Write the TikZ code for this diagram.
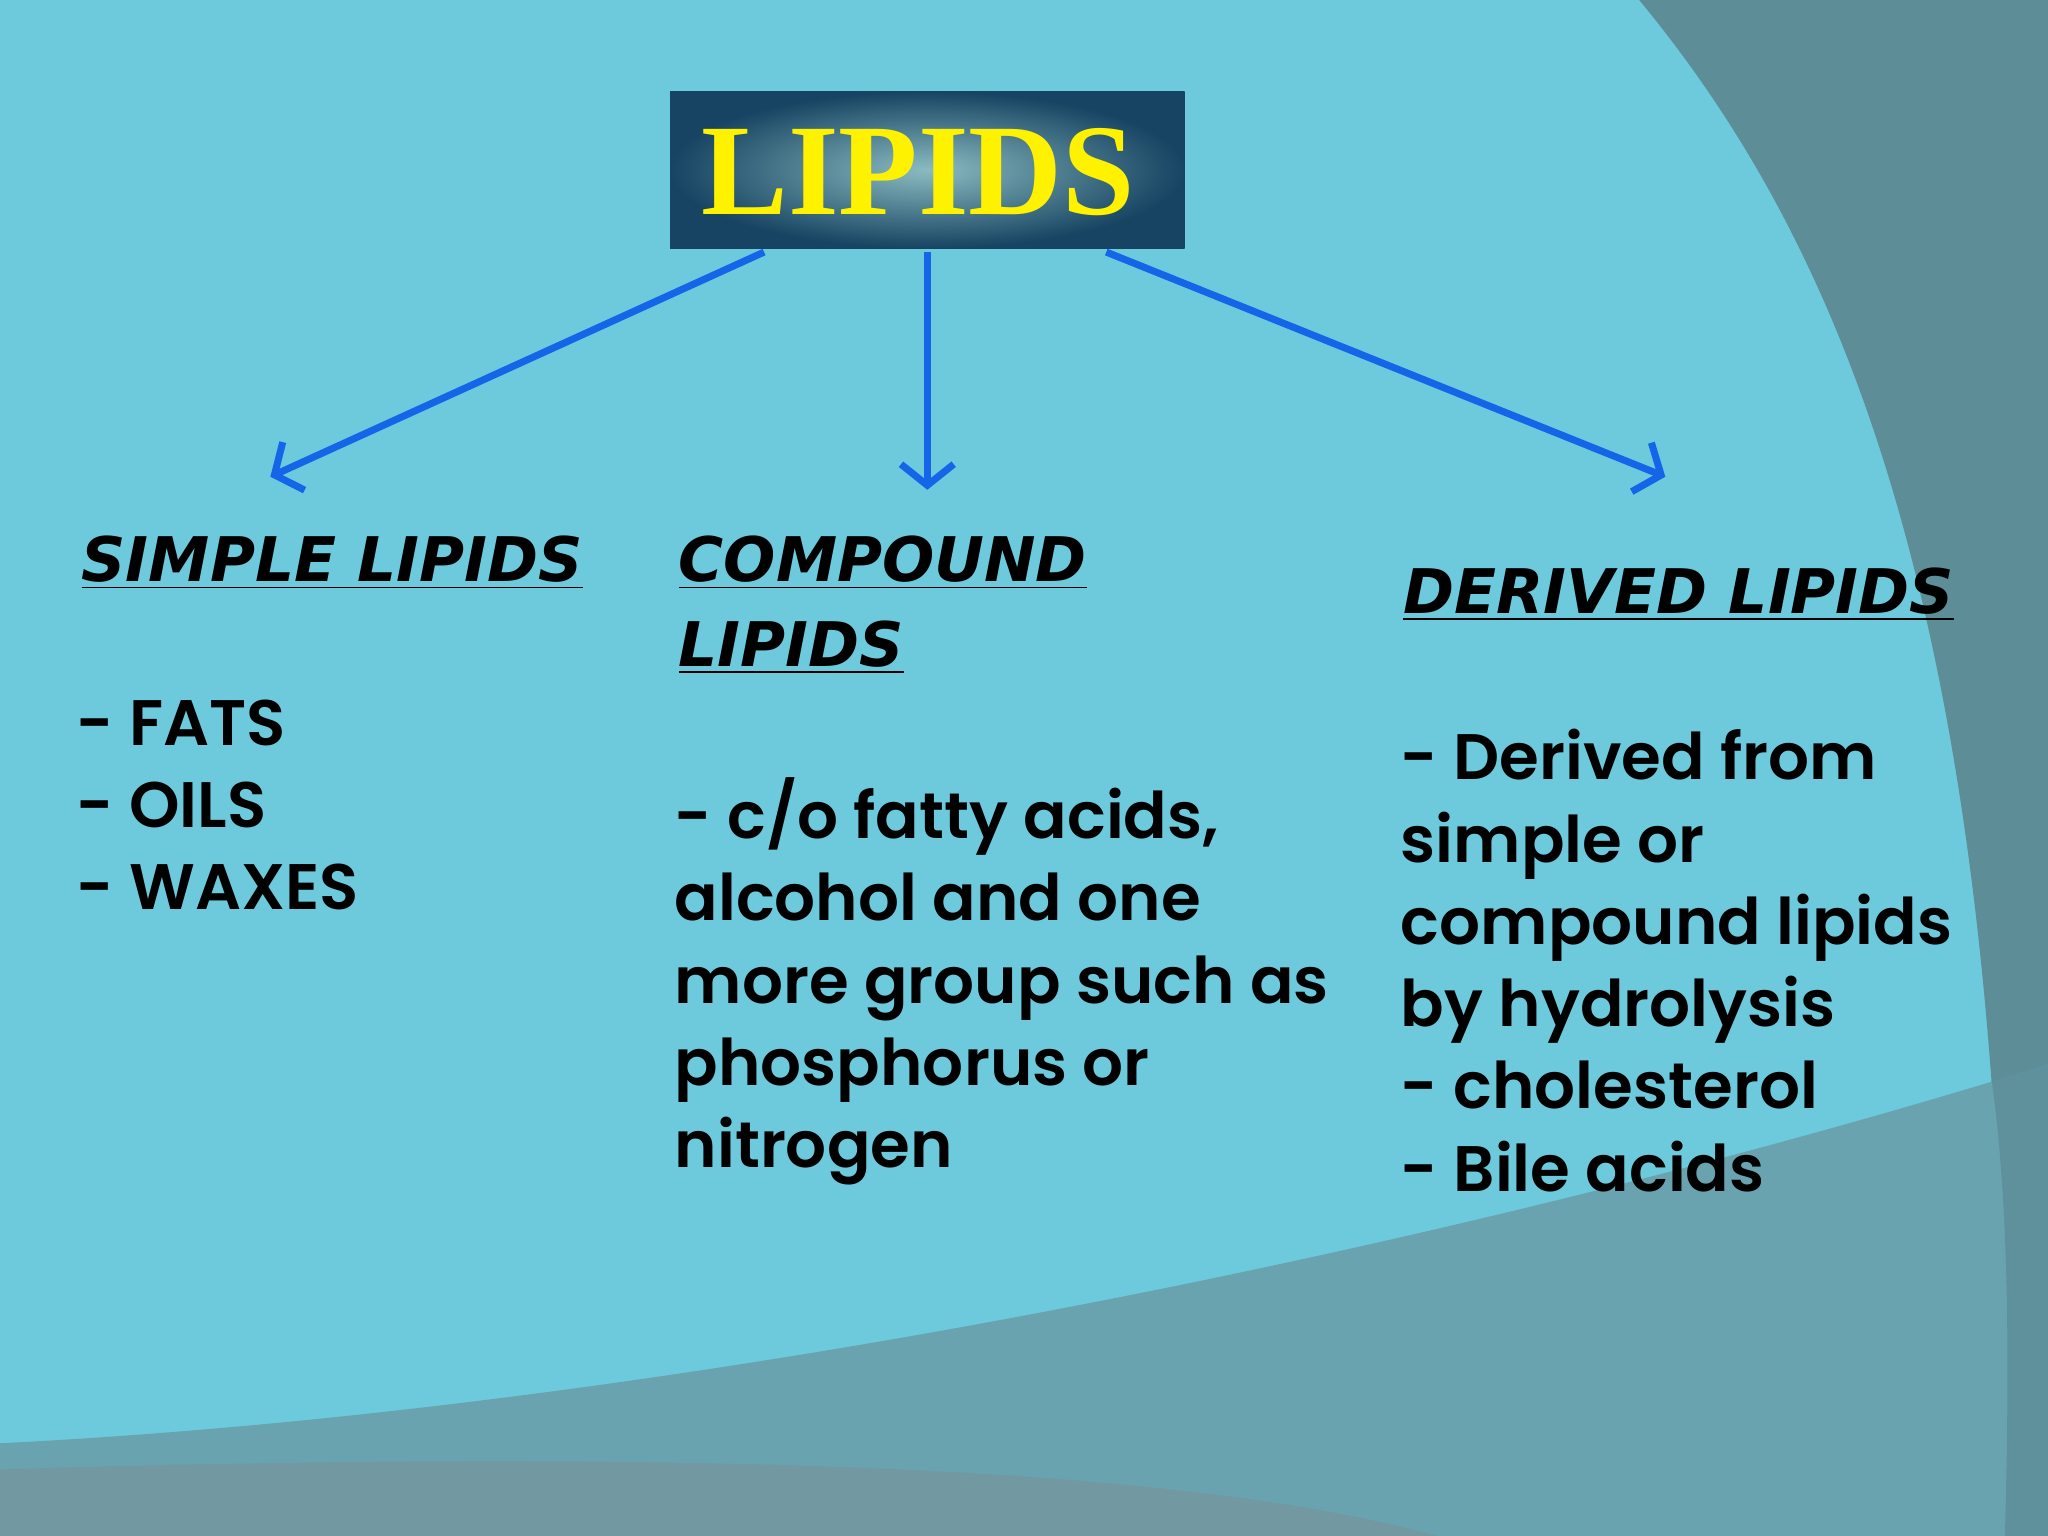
\documentclass[tikz,border=0pt]{standalone}
\usepackage{fontspec}
\usetikzlibrary{arrows.meta}
\newfontfamily\headfont{DejaVu Sans}
\newfontfamily\bodyfont{Poppins}[UprightFont=* SemiBold]
\newfontfamily\titlefont{Liberation Serif}
\definecolor{bgc}{HTML}{6DCADC}
\definecolor{grayr}{HTML}{5D8E98}
\definecolor{bandc}{HTML}{6AA3B0}
\definecolor{botc}{HTML}{7298A2}
\definecolor{arr}{HTML}{1565E8}
\tikzset{
 hd/.style={anchor=north west,inner sep=0pt,font=\headfont\bfseries\itshape\fontsize{17.5pt}{24pt}\selectfont,align=left},
 bd/.style={anchor=north west,inner sep=0pt,font=\bodyfont\fontsize{18.3pt}{23.4pt}\selectfont,align=left},
 ar/.style={draw=arr,line width=2pt,-{Straight Barb[length=6pt,width=15pt,line width=2pt]}}
}
\begin{document}
\begin{tikzpicture}[x=0.013061cm,y=-0.013061cm]
\useasboundingbox (0,0) rectangle (1568,1176);
\fill[bgc] (0,0) rectangle (1568,1176);
\fill[grayr] (1255,0) .. controls (1420,200) and (1540,500) .. (1535,1176) -- (1568,1176) -- (1568,0) -- cycle;
\fill[bandc] (0,1105) .. controls (500,1080) and (1100,960) .. (1568,815) -- (1568,1176) -- (0,1176) -- cycle;
\fill[grayr!85!bandc] (1535,1176) .. controls (1540,1000) and (1535,900) .. (1525,828) -- (1568,815) -- (1568,1176) -- cycle;
\fill[botc] (0,1125) .. controls (500,1110) and (900,1120) .. (1100,1176) -- (0,1176) -- cycle;
\shade[inner color=blue!10!cyan!30!gray!70, outer color={rgb,255:red,22;green,68;blue,98}] (513,70) rectangle (907,190);
\node[inner sep=0pt] (title) at (703,132) {\titlefont\bfseries\color{yellow}\fontsize{37pt}{37pt}\selectfont LIPIDS};
\coordinate (a1) at (585,193);
\coordinate (a2) at (710,193);
\coordinate (a3) at (847,193);
\coordinate (b1) at (207,365);
\coordinate (b2) at (710,375);
\coordinate (b3) at (1275,365);
\draw[ar] (a1) -- (b1);
\draw[ar] (a2) -- (b2);
\draw[ar] (a3) -- (b3);
\node[hd] (h1) at (62,410) {\underline{SIMPLE LIPIDS}};
\node[hd] (h2) at (519,410) {\underline{COMPOUND}\\\underline{LIPIDS}};
\node[hd] (h3) at (1074,434) {\underline{DERIVED LIPIDS}};
\node[bd] (t1) at (58,535) {- FATS\\- OILS\\- WAXES};
\node[bd] (t2) at (516,595) {- c/o fatty acids,\\alcohol and one\\more group such as\\phosphorus or\\nitrogen};
\node[bd] (t3) at (1072,558) {- Derived from\\simple or\\compound lipids\\by hydrolysis\\- cholesterol\\- Bile acids};
\end{tikzpicture}
\end{document}
